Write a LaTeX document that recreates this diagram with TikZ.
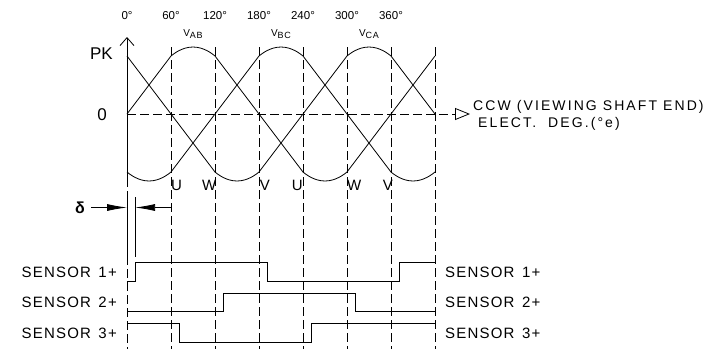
\documentclass[tikz,border=0pt]{standalone}
\usepackage{fontspec}
\setmainfont{Liberation Sans}
\newfontfamily\cadfont[LetterSpace=8]{Liberation Sans}
\newfontfamily\cadwide[LetterSpace=15]{Liberation Sans}
\usetikzlibrary{arrows.meta}
\tikzset{every node/.style={inner sep=0pt},
 thin line/.style={line width=0.8pt},
 dashline/.style={line width=0.8pt,dash pattern=on 9pt off 4pt},
 degtext/.style={font=\fontsize{11.5}{12}\selectfont,anchor=base},
 phasetext/.style={font=\fontsize{15}{15}\selectfont},
 axistext/.style={font=\fontsize{17}{17}\selectfont},
 sensortext/.style={font=\cadfont\fontsize{15}{15}\selectfont},
 notetext/.style={font=\cadwide\fontsize{14}{14}\selectfont,anchor=base west},
 vtext/.style={font=\cadfont\fontsize{10}{10}\selectfont,anchor=base},
 dimtip/.style={-{Latex[length=20pt,width=7pt]}},
 }

\begin{document}
\begin{tikzpicture}[x=1pt,y=-1pt]
    \useasboundingbox (0,0) rectangle (717,349);
    \node[axistext,anchor=base east] (pk) at (113,59) {PK};
    \node[axistext,anchor=base] (zerolabel) at (102,120.5) {0};
    \node[font=\bfseries\fontsize{16}{16}\selectfont] (delta) at (80,207.5) {δ};
    \coordinate (zero) at (127,114);
    \coordinate (zeroend) at (470,114);
    \node[notetext] (ccw) at (473,110) {CCW (VIEWING SHAFT END)};
    \node[notetext] (elect) at (478,127.5) {ELECT.\ \ DEG.(°e)};
    \foreach \s/\y in {1/277,2/307,3/338} {
        \node[sensortext,anchor=base east] (sensorL\s) at (117,\y) {SENSOR\enspace\s+};
        \node[sensortext,anchor=base west] (sensorR\s) at (445,\y) {SENSOR\enspace\s+};
    }
    \begin{scope}[shift={(127pt,0pt)},x=0.7333pt]
        \foreach \d in {0,60,...,360}
            \node[degtext] (deg\d) at (\d,19.3) {\d°};
        \node[vtext] (vab) at (90,36) {V\raisebox{-2.5pt}{\fontsize{9}{9}\selectfont AB}};
        \node[vtext] (vbc) at (210,36) {V\raisebox{-2.5pt}{\fontsize{9}{9}\selectfont BC}};
        \node[vtext] (vca) at (330,36) {V\raisebox{-2.5pt}{\fontsize{9}{9}\selectfont CA}};
        \node[phasetext,anchor=base west] (u1) at (60,190) {U};
        \node[phasetext,anchor=base east] (w1) at (122,190) {W};
        \node[phasetext,anchor=base west] (v1) at (181,190) {V};
        \node[phasetext,anchor=base east] (u2) at (240,190) {U};
        \node[phasetext,anchor=base west] (w2) at (300,190) {W};
        \node[phasetext,anchor=base east] (v2) at (363,190) {V};
        \coordinate (axisbot) at (0,178);
        \coordinate (axistop) at (0,37);
        \coordinate (dimleft) at (0,207.5);
        \coordinate (dimright) at (11,207.5);
        \coordinate (dimend) at (60,207.5);
        \foreach \d in {60,120,...,420}
            \draw[dashline] (\d,47) -- (\d,349);
        \draw[dashline] (axisbot) -- (0,349);
        \draw[thin line,-{Straight Barb[length=8pt,width=14pt]}] (axisbot) -- (axistop);
        \draw[thin line] (0,197) -- (0,257);
        \draw[thin line] (11,197) -- (11,257);
        \draw[thin line,dimtip,shorten <=6pt] (delta.east) -- (dimleft);
        \draw[thin line,dimtip] (dimend) -- (dimright);
        \begin{scope}[shift={(0pt,-114pt)},y=1pt]
            \draw[thin line] (0,0) -- (60,58) parabola bend (90,67) (120,58) -- (240,-58)
                parabola bend (270,-67) (300,-58) -- (420,58);
            \draw[thin line] (0,-58) parabola bend (30,-67) (60,-58) -- (180,58)
                parabola bend (210,67) (240,58) -- (360,-58) parabola bend (390,-67) (420,-58);
            \draw[thin line] (0,58) -- (120,-58) parabola bend (150,-67) (180,-58) -- (300,58)
                parabola bend (330,67) (360,58) -- (420,0);
        \end{scope}
        \draw[thin line] (0,281) -| (11,262) -| (191,281) -| (371,262) -- (420,262);
        \draw[thin line] (0,311) -| (131,293) -| (311,311) -- (420,311);
        \draw[thin line] (0,323.5) -| (71,342) -| (251,323.5) -- (420,323.5);
    \end{scope}
    \draw[dashline,-{Triangle[open,length=15pt,width=12pt]}] (zero) -- (zeroend);
\end{tikzpicture}
\end{document}
